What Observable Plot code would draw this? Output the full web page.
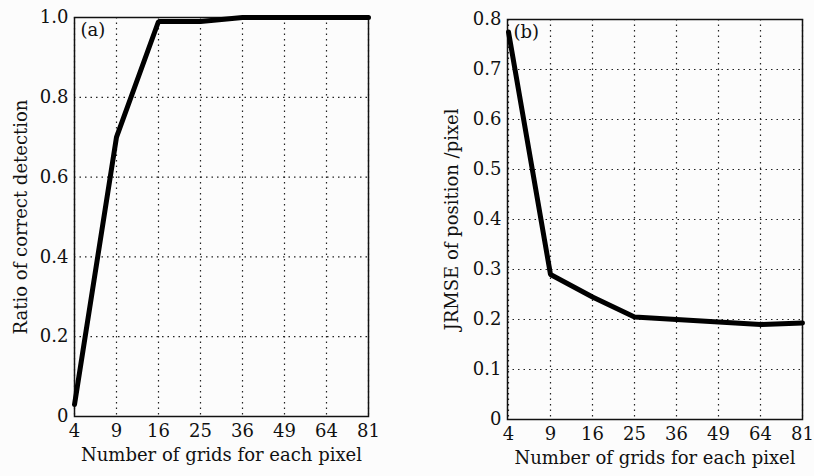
<!DOCTYPE html>
<html>
<head>
<meta charset="utf-8">
<script src="https://cdn.jsdelivr.net/npm/d3@7"></script>
<script src="https://cdn.jsdelivr.net/npm/@observablehq/plot@0.6"></script>
<style>
  html, body { margin: 0; padding: 0; background: #fcfcfc; }
  #wrap { display: flex; width: 814px; height: 476px; }
</style>
</head>
<body>
<div id="wrap"></div>
<script>
const grids = ["4", "9", "16", "25", "36", "49", "64", "81"];
const ratioCorrect = [0.03, 0.70, 0.99, 0.99, 1.0, 1.0, 1.0, 1.0];
const jrmse = [0.775, 0.29, 0.245, 0.205, 0.20, 0.195, 0.19, 0.193];
const ticksA = [0, 0.2, 0.4, 0.6, 0.8, 1.0];
const ticksB = [0, 0.1, 0.2, 0.3, 0.4, 0.5, 0.6, 0.7, 0.8];
const xLabel = "Number of grids for each pixel";
const yLabelA = "Ratio of correct detection";
const yLabelB = "JRMSE of position /pixel";

const dataA = grids.map((g, i) => ({g, v: ratioCorrect[i]}));
const dataB = grids.map((g, i) => ({g, v: jrmse[i]}));
const fmt = d => d === 0 ? "0" : d.toFixed(1);

function panel({data, ticks, yMax, yLabel, tag, width, ml, mr, mt, mb, ylo}) {
  return Plot.plot({
    width, height: 476,
    marginLeft: ml, marginRight: mr, marginTop: mt, marginBottom: mb,
    style: {fontFamily: "DejaVu Serif", fontSize: "18px", background: "transparent", color: "#111"},
    x: {type: "point", domain: grids, padding: 0},
    y: {domain: [0, yMax]},
    marks: [
      Plot.gridX(grids, {stroke: "#222", strokeOpacity: 1, strokeDasharray: "1.5,4", strokeWidth: 1.2}),
      Plot.gridY(ticks, {stroke: "#222", strokeOpacity: 1, strokeDasharray: "1.5,4", strokeWidth: 1.2}),
      Plot.axisX(grids, {tickSize: 0, tickPadding: 8, label: xLabel, labelAnchor: "center", labelOffset: 44, labelArrow: "none", fontSize: 18}),
      Plot.axisY(ticks, {tickSize: 0, tickPadding: 6, tickFormat: fmt, label: yLabel, labelAnchor: "center", labelOffset: ylo, labelArrow: "none", fontSize: 18}),
      Plot.frame({stroke: "#111", strokeWidth: 1.5}),
      Plot.line(data, {x: "g", y: "v", stroke: "#000", strokeWidth: 5, strokeLinejoin: "miter"}),
      Plot.text([tag], {frameAnchor: "top-left", dx: 6, dy: 6, fontSize: 18, fill: "#111"})
    ]
  });
}

const wrap = document.getElementById("wrap");
wrap.append(panel({data: dataA, ticks: ticksA, yMax: 1.0, yLabel: yLabelA, tag: "(a)", width: 410, ml: 74, mr: 42, mt: 17, mb: 60, ylo: 60}));
wrap.append(panel({data: dataB, ticks: ticksB, yMax: 0.8, yLabel: yLabelB, tag: "(b)", width: 404, ml: 97, mr: 12, mt: 19, mb: 57, ylo: 62}));
</script>
</body>
</html>
